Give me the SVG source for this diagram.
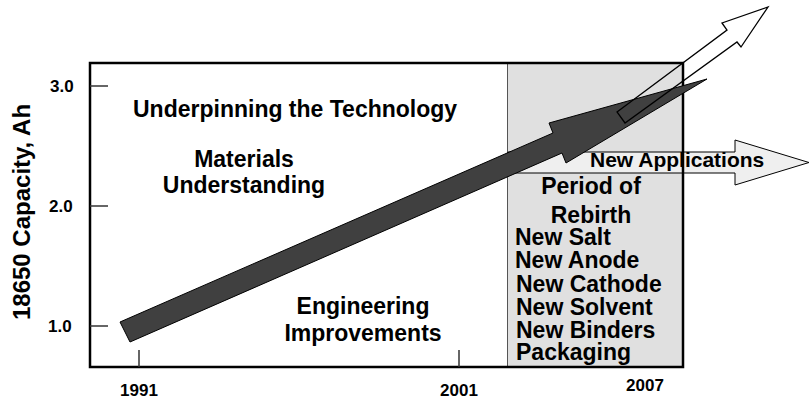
<svg xmlns="http://www.w3.org/2000/svg" width="810" height="399" viewBox="0 0 810 399">
  <style>
    text { font-family: "Liberation Sans", Arial, Helvetica, sans-serif; font-weight: bold; fill: #000; }
    .big { font-size: 23px; }
    .title { font-size: 24px; }
    .apps { font-size: 21px; }
    .tick { font-size: 17px; }
    .ylab { font-size: 17px; }
    .axis { stroke: #000; stroke-width: 2.5; fill: none; }
    .tk { stroke: #333; stroke-width: 1.5; }
  </style>

  <rect width="810" height="399" fill="#fff"/>

  <!-- shaded 2001-2007 panel -->
  <g id="rebirth-panel">
    <rect x="507.5" y="63" width="176" height="304" fill="#e0e0e0" stroke="#555" stroke-width="1"/>
  </g>

  <!-- "New Applications" block arrow -->
  <g id="arrow-new-applications">
    <polygon points="508,152 735,152 735,140 809,162.5 735,185 735,173 508,173" fill="#efefef" stroke="#000" stroke-width="1"/>
  </g>

  <!-- chart frame and ticks -->
  <g id="axes">
    <path class="axis" d="M90,63 H683 V367 H90 Z"/>
    <line class="tk" x1="90" y1="86" x2="108" y2="86"/>
    <line class="tk" x1="90" y1="206" x2="108" y2="206"/>
    <line class="tk" x1="90" y1="326" x2="108" y2="326"/>
    <line class="tk" x1="139" y1="350" x2="139" y2="367"/>
    <line class="tk" x1="459" y1="350" x2="459" y2="367"/>
    <text class="ylab" x="50" y="92">3.0</text>
    <text class="ylab" x="49" y="212">2.0</text>
    <text class="ylab" x="48" y="332">1.0</text>
    <text class="tick" x="139" y="396" text-anchor="middle">1991</text>
    <text class="tick" x="459" y="396" text-anchor="middle">2001</text>
    <text class="tick" x="645" y="391" text-anchor="middle">2007</text>
    <text class="title" transform="translate(30,212) rotate(-90)" text-anchor="middle">18650 Capacity, Ah</text>
  </g>

  <g id="connectors">
    <!-- capacity growth arrow -->
    <polygon id="arrow-progress" points="120,322 553,133 549,123 707,79 566,163 562,153 130,342" fill="#404040" stroke="#000" stroke-width="1"/>
    <!-- future growth arrow (outline only) -->
    <polygon id="arrow-future" points="617,112 727,30 722,23 768,7 741,47 737,42 625,123" fill="none" stroke="#000" stroke-width="1.3"/>
  </g>

  <g id="label-underpinning">
    <text class="big" x="133" y="117">Underpinning the Technology</text>
  </g>
  <g id="label-materials">
    <text class="big" x="244" y="167" text-anchor="middle">Materials</text>
    <text class="big" x="244" y="193" text-anchor="middle">Understanding</text>
  </g>
  <g id="label-engineering">
    <text class="big" x="363" y="314" text-anchor="middle">Engineering</text>
    <text class="big" x="363" y="341" text-anchor="middle">Improvements</text>
  </g>
  <g id="label-applications">
    <text class="apps" x="590" y="167">New Applications</text>
  </g>
  <g id="label-rebirth">
    <text class="big" x="591" y="194" text-anchor="middle">Period of</text>
    <text class="big" x="591" y="223" text-anchor="middle">Rebirth</text>
    <text class="big" x="515" y="245">New Salt</text>
    <text class="big" x="515" y="268">New Anode</text>
    <text class="big" x="516" y="292">New Cathode</text>
    <text class="big" x="516" y="315">New Solvent</text>
    <text class="big" x="516" y="338">New Binders</text>
    <text class="big" x="516" y="360">Packaging</text>
  </g>
</svg>
